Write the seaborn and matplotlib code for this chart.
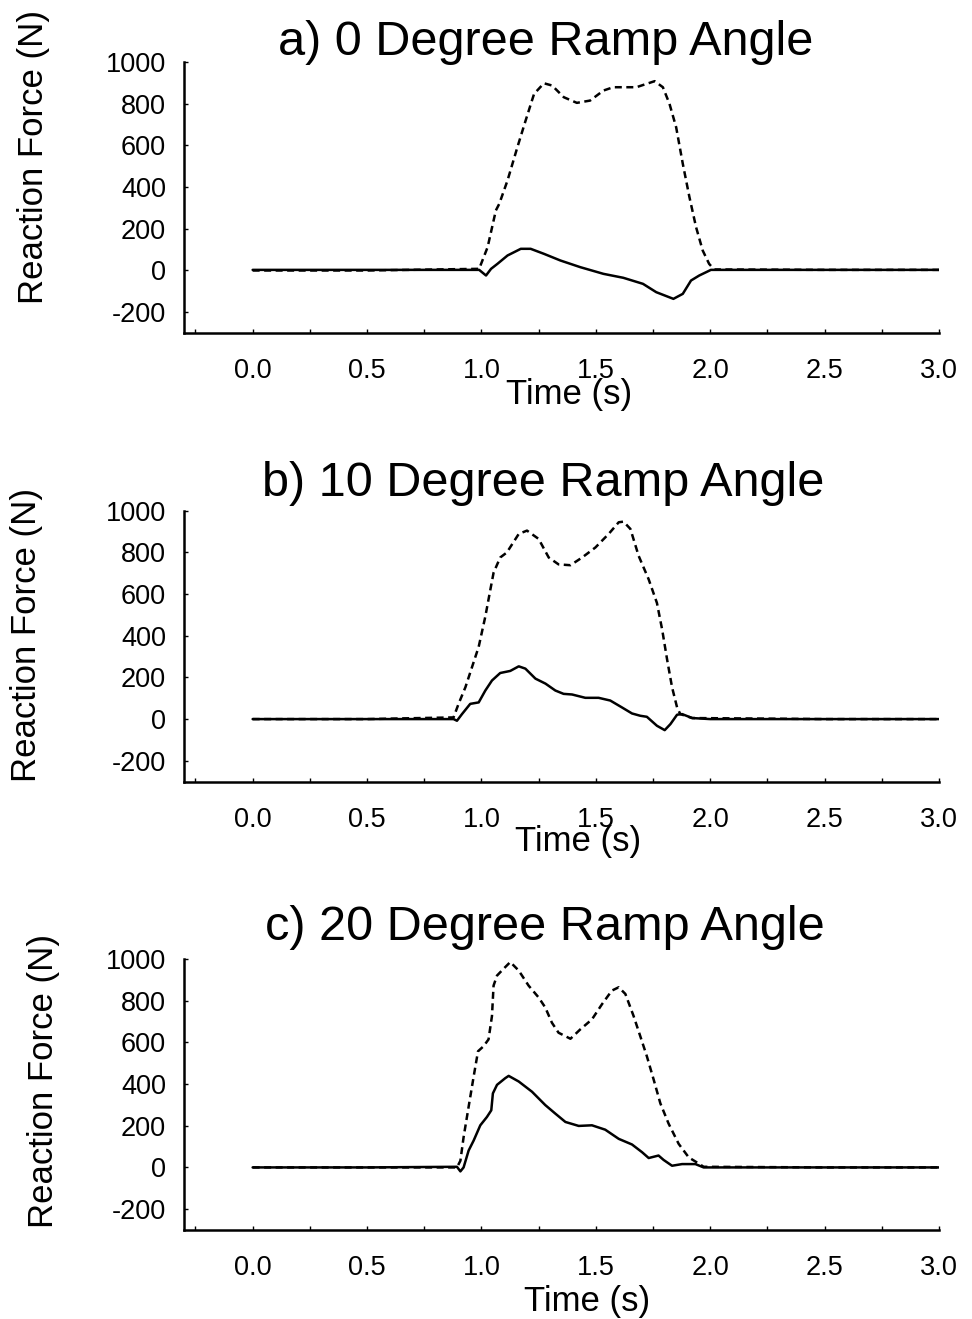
import pandas as pd
import numpy as np
import matplotlib
matplotlib.use('Agg')
import matplotlib.pyplot as plt
import matplotlib.ticker as mtick
import seaborn as sns

sns.set_style('white')
plt.rcParams['font.family'] = ['Liberation Sans', 'DejaVu Sans']
plt.rcParams['axes.unicode_minus'] = False
plt.rcParams['text.color'] = 'black'
plt.rcParams['axes.labelcolor'] = 'black'

titles = ['a) 0 Degree Ramp Angle', 'b) 10 Degree Ramp Angle', 'c) 20 Degree Ramp Angle']

# panel a, 0 degrees
t_vert_a = [0.0, 0.5, 0.99, 1.027, 1.063, 1.078, 1.114, 1.157, 1.193, 1.23, 1.273, 1.309,
            1.36, 1.417, 1.475, 1.533, 1.576, 1.677, 1.757, 1.793, 1.822, 1.851, 1.88,
            1.909, 1.938, 1.967, 1.995, 2.017, 2.5, 3.0]
f_vert_a = [0, 0, 8, 112, 288, 320, 432, 591, 719, 847, 898, 887,
            831, 804, 815, 863, 879, 879, 908, 879, 799, 687, 512,
            352, 208, 96, 32, 5, 3, 3]
t_shear_a = [0.0, 0.5, 0.99, 1.02, 1.042, 1.07, 1.114, 1.172, 1.215, 1.273, 1.345, 1.432,
             1.533, 1.62, 1.706, 1.764, 1.839, 1.88, 1.916, 1.952, 2.003, 2.5, 3.0]
f_shear_a = [3, 3, 3, -24, 8, 32, 72, 104, 104, 80, 48, 16,
             -16, -35, -64, -104, -136, -112, -48, -24, 3, 3, 3]

# panel b, 10 degrees
t_vert_b = [0.0, 0.5, 0.878, 0.9, 0.93, 0.959, 0.988, 1.017, 1.039, 1.053, 1.082, 1.111,
            1.163, 1.199, 1.25, 1.294, 1.337, 1.389, 1.44, 1.498, 1.556, 1.6, 1.621,
            1.651, 1.687, 1.731, 1.767, 1.79, 1.812, 1.833, 1.855, 1.869, 1.921, 2.5, 3.0]
f_vert_b = [0, 0, 8, 73, 153, 250, 347, 492, 621, 702, 775, 799,
            888, 904, 864, 775, 742, 738, 775, 823, 888, 944, 947,
            912, 783, 670, 557, 428, 282, 153, 56, 24, 5, 0, 0]
t_shear_b = [0.0, 0.5, 0.878, 0.893, 0.915, 0.951, 0.988, 1.017, 1.046, 1.082, 1.126, 1.163,
             1.192, 1.236, 1.28, 1.323, 1.359, 1.396, 1.454, 1.512, 1.563, 1.614, 1.658,
             1.694, 1.723, 1.767, 1.801, 1.826, 1.855, 1.877, 1.921, 2.0, 2.5, 3.0]
f_shear_b = [0, 0, 0, -8, 24, 73, 80, 137, 185, 221, 231, 253,
             242, 194, 170, 137, 121, 118, 102, 102, 89, 56, 27,
             16, 11, -32, -53, -24, 21, 24, 5, 0, 0, 0]

# panel c, 20 degrees
t_vert_c = [0.0, 0.5, 0.893, 0.908, 0.922, 0.944, 0.966, 0.985, 1.009, 1.031, 1.046, 1.053,
            1.068, 1.097, 1.126, 1.163, 1.206, 1.25, 1.279, 1.308, 1.337, 1.389, 1.432,
            1.483, 1.527, 1.57, 1.6, 1.629, 1.665, 1.694, 1.723, 1.753, 1.782, 1.818,
            1.862, 1.906, 1.949, 1.971, 2.5, 3.0]
f_vert_c = [0, 0, 0, 32, 145, 291, 436, 557, 581, 614, 726, 872,
            920, 953, 985, 944, 872, 815, 767, 694, 646, 617, 662,
            710, 783, 848, 864, 832, 726, 630, 533, 420, 307, 210,
            113, 48, 19, 3, 0, 0]
t_shear_c = [0.0, 0.5, 0.893, 0.908, 0.922, 0.944, 0.966, 0.995, 1.024, 1.043, 1.05, 1.068,
             1.104, 1.119, 1.163, 1.221, 1.279, 1.323, 1.367, 1.425, 1.483, 1.541, 1.6,
             1.658, 1.702, 1.731, 1.774, 1.796, 1.833, 1.877, 1.935, 1.971, 2.5, 3.0]
f_shear_c = [0, 0, 3, -19, 0, 81, 129, 202, 242, 274, 355, 396,
             428, 439, 412, 363, 299, 258, 218, 199, 202, 181, 137,
             110, 73, 45, 57, 36, 8, 16, 16, 0, 0, 0]

panels = [
    (t_vert_a, f_vert_a, t_shear_a, f_shear_a),
    (t_vert_b, f_vert_b, t_shear_b, f_shear_b),
    (t_vert_c, f_vert_c, t_shear_c, f_shear_c),
]

# layout (figure fractions)
bottoms = [0.7475, 0.4074, 0.0675]
title_pos = [(0.479, 1.026), (0.476, 1.052), (0.478, 1.070)]
xlabel_pos = [(0.51, -0.166), (0.522, -0.159), (0.534, -0.203)]
ylabel_pos = [(-0.1775, 0.649), (-0.1868, 0.541), (-0.164, 0.55)]

fig = plt.figure(figsize=(9.72, 13.19), dpi=100)

for i, (tv, fv, ts, fs) in enumerate(panels):
    ax = fig.add_axes([0.1893, bottoms[i], 0.7768, 0.2055])
    df = pd.concat([
        pd.DataFrame({'time': tv, 'force': fv, 'kind': 'vertical'}),
        pd.DataFrame({'time': ts, 'force': fs, 'kind': 'shear'}),
    ])
    sns.lineplot(data=df, x='time', y='force', style='kind', estimator=None, sort=False,
                 dashes={'vertical': (2.8, 1.8), 'shear': ''}, color='black',
                 linewidth=1.8, legend=False, ax=ax)
    ax.set_xlim(-0.3, 3.0)
    ax.set_ylim(-300, 1000)
    ax.set_xticks(np.arange(0, 3.01, 0.5))
    ax.xaxis.set_major_formatter(mtick.FormatStrFormatter('%.1f'))
    ax.xaxis.set_minor_locator(mtick.MultipleLocator(0.25))
    ax.set_yticks(np.arange(-200, 1001, 200))
    ax.tick_params(axis='x', which='both', direction='in', length=3, width=1,
                   pad=18, labelsize=19.5, colors='black', bottom=True)
    ax.tick_params(axis='y', which='both', direction='in', length=3, width=1,
                   pad=13, labelsize=19.5, colors='black', left=True)
    sns.despine(ax=ax)
    for side in ['left', 'bottom']:
        ax.spines[side].set_linewidth(1.8)
        ax.spines[side].set_color('black')
    ax.set_title(titles[i], fontsize=35, x=title_pos[i][0], y=title_pos[i][1], pad=0,
                 color='black')
    ax.set_xlabel('Time (s)', fontsize=25)
    ax.set_ylabel('Reaction Force (N)', fontsize=25)
    ax.xaxis.set_label_coords(*xlabel_pos[i])
    ax.yaxis.set_label_coords(*ylabel_pos[i])

plt.savefig('out.png', dpi=100)
plt.close()
